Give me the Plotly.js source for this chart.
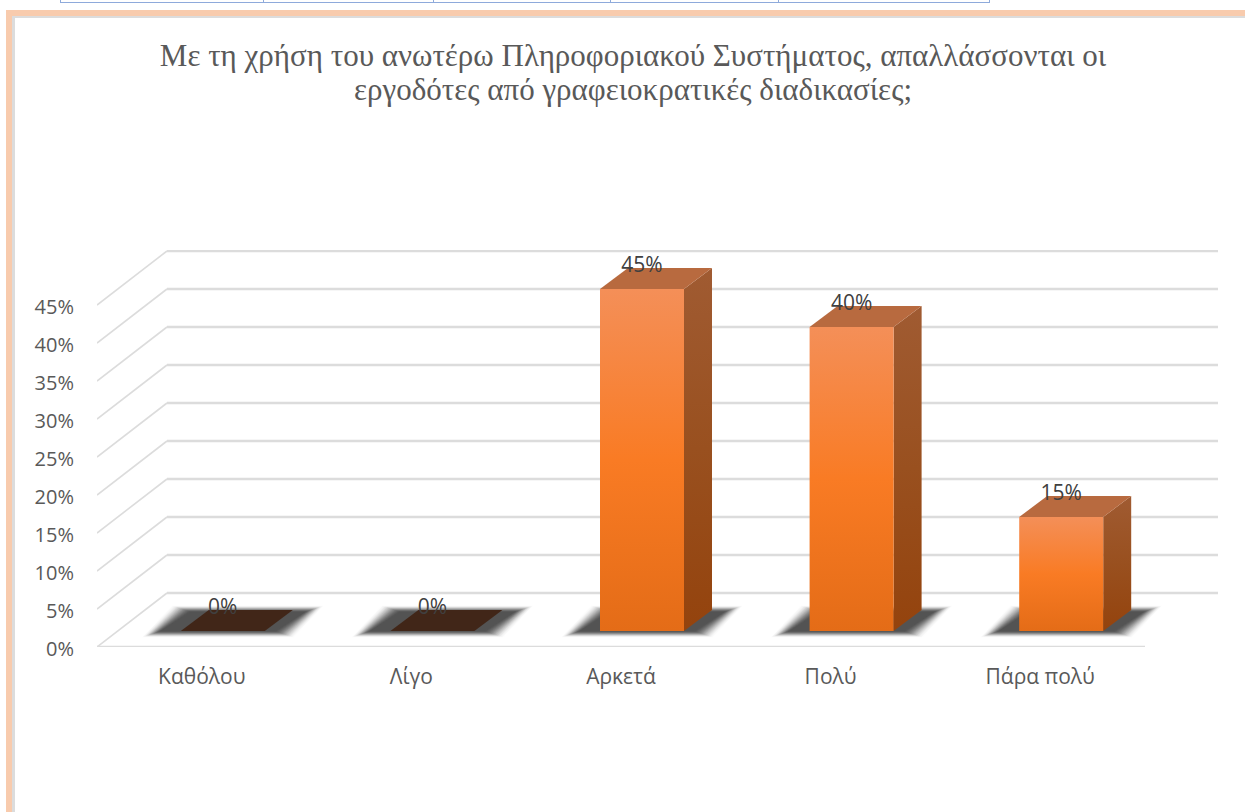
<!DOCTYPE html>
<html>
<head>
<meta charset="utf-8">
<script src="https://cdn.plot.ly/plotly-3.0.1.min.js"></script>
<style>html,body{margin:0;padding:0;background:#fff;overflow:hidden}</style>
</head>
<body>
<div id="chart" style="width:1245px;height:812px"></div>
<script>
const categories = ["Καθόλου", "Λίγο", "Αρκετά", "Πολύ", "Πάρα πολύ"];
const values = [0, 0, 45, 40, 15];
const yTicks = [0, 5, 10, 15, 20, 25, 30, 35, 40, 45];
const titleLines = ["Με τη χρήση του ανωτέρω Πληροφοριακού Συστήματος, απαλλάσσονται οι", "εργοδότες από γραφειοκρατικές διαδικασίες;"];

// Canvas geometry
const W = 1245, H = 812;
const M = {l: 97, r: 27, t: 250, b: 165};
const plotW = W - M.l - M.r, plotH = H - M.t - M.b;
const pxPerCat = 209.6, pxPerPct = 7.6;
const X = px => px / pxPerCat, Y = px => px / pxPerPct;
const xRange = [-0.5, -0.5 + plotW / pxPerCat];
const yRange = [0, plotH / pxPerPct];

// Pseudo-3D projection
const wallDx = X(70), wallDy = Y(54);
const barShift = X(21), barLift = Y(16), barWidth = X(84);
const depthDx = X(28), depthDy = Y(21);

const GRID = "#DCDCDC", TEXT = "#595959", FONT = "'Open Sans', sans-serif";
const traces = [];
const poly = (xs, ys, extra) => Object.assign({
  type: "scatter", mode: "lines", x: xs.concat(xs[0]), y: ys.concat(ys[0]),
  fill: "toself", line: {width: 0}, hoverinfo: "skip", showlegend: false, cliponaxis: false
}, extra);
const seg = (xs, ys, w) => ({
  type: "scatter", mode: "lines", x: xs, y: ys, line: {color: GRID, width: w},
  hoverinfo: "skip", showlegend: false, cliponaxis: false
});
const vGrad = (a, b, c) => ({type: "vertical", colorscale: [[0, a], [0.5, b], [1, c]]});

// Walls: floor front edge, diagonals and back grid lines
const xL = xRange[0], xR = xRange[1];
traces.push(seg([xL, xR - X(73)], [0, 0], 2.5));
yTicks.forEach(t => {
  traces.push(seg([xL, xL + wallDx], [t, t + wallDy], 1.6));
  traces.push(seg([xL + wallDx, xR], [t + wallDy, t + wallDy], 2.5));
});

// Soft floor shadows: nested layers whose combined coverage follows a smooth falloff
const shadowLayers = 16, shadowCore = 0.8;
const coverage = k => {
  const t = 1 - k / (shadowLayers + 1);
  return shadowCore * t * t * (3 - 2 * t);
};
values.forEach((v, i) => {
  const c = i + barShift, l = c - barWidth / 2, r = c + barWidth / 2;
  const yB = barLift, yT = barLift + Y(19);
  for (let k = shadowLayers; k >= 0; k--) {
    const ex = X(k * 1.2), ey = Y(k * 0.4);
    const alpha = 1 - (1 - coverage(k)) / (1 - coverage(k + 1));
    traces.push(poly(
      [l - X(20) - ex, r + X(10) + ex, r + X(40) + ex, l + X(10) - ex],
      [yB - ey, yB - ey, yT + ey, yT + ey],
      {fillcolor: "rgba(45,45,45," + alpha.toFixed(3) + ")"}
    ));
  }
});

// Bars
values.forEach((v, i) => {
  const c = i + barShift, l = c - barWidth / 2, r = c + barWidth / 2;
  const y0 = barLift, y1 = barLift + v;
  if (v > 0) {
    traces.push(poly([r, r + depthDx, r + depthDx, r], [y0, y0 + depthDy, y1 + depthDy, y1],
      {fillgradient: vGrad("#94430D", "#99501F", "#A05B32")}));
    traces.push(poly([l, r, r + depthDx, l + depthDx], [y1, y1, y1 + depthDy, y1 + depthDy],
      {fillcolor: "#B86A3F"}));
    traces.push(poly([l, r, r, l], [y0, y0, y1, y1],
      {fillgradient: vGrad("#E46C17", "#F97B24", "#F48F58")}));
  } else {
    traces.push(poly([l, r, r + depthDx, l + depthDx], [y1, y1, y1 + depthDy, y1 + depthDy],
      {fillcolor: "#412618"}));
  }
});

// Data labels
traces.push({
  type: "scatter", mode: "text",
  x: values.map((v, i) => i + barShift),
  y: values.map(v => v + barLift + Y(22)),
  text: values.map(v => v + "%"),
  textposition: "middle center",
  textfont: {family: FONT, size: 21, color: "#404040"},
  hoverinfo: "skip", showlegend: false, cliponaxis: false
});

// Page frame and the table edge above it
const px = x => (x - M.l) / plotW, py = y => (H - M.b - y) / plotH;
const rect = (x0, y0, x1, y1, color) => ({
  type: "rect", xref: "paper", yref: "paper", layer: "below",
  x0: px(x0), x1: px(x1), y0: py(y0), y1: py(y1), fillcolor: color, line: {width: 0}
});
const BLUE = "#8EAADB", PEACH = "#F8CBAD";
const shapes = [
  rect(6, 10, 12, 812, PEACH), rect(6, 10, 1245, 16, PEACH),
  rect(12, 16, 15, 812, GRID), rect(12, 16, 1245, 18, GRID),
  rect(60, 2, 990, 3, BLUE)
];
[60, 263, 433, 610, 778, 989].forEach(x => shapes.push(rect(x, 0, x + 1, 3, BLUE)));

const layout = {
  width: W, height: H, margin: M,
  paper_bgcolor: "#fff", plot_bgcolor: "rgba(0,0,0,0)",
  showlegend: false, hovermode: false, shapes,
  title: {
    text: titleLines.map(t => '<span style="font-size:31px">' + t + '</span>').join("<br>"),
    x: 633 / W, xanchor: "center", xref: "container",
    y: 1 - 66 / H, yanchor: "top", yref: "container",
    font: {family: "'Liberation Serif', serif", size: 26, color: TEXT}
  },
  xaxis: {
    range: xRange, showgrid: false, zeroline: false, showline: false,
    tickmode: "array", tickvals: categories.map((c, i) => i), ticktext: categories,
    ticks: "outside", ticklen: 11, tickcolor: "rgba(0,0,0,0)",
    tickfont: {family: FONT, size: 21, color: TEXT}
  },
  yaxis: {
    range: yRange, showgrid: false, zeroline: false, showline: false,
    tickmode: "array", tickvals: yTicks, ticktext: yTicks.map(t => t + "%"),
    ticks: "outside", ticklen: 18, tickcolor: "rgba(0,0,0,0)", ticklabelshift: 2,
    tickfont: {family: FONT, size: 20, color: TEXT}
  }
};
Plotly.newPlot("chart", traces, layout, {displayModeBar: false, staticPlot: true});
</script>
</body>
</html>
